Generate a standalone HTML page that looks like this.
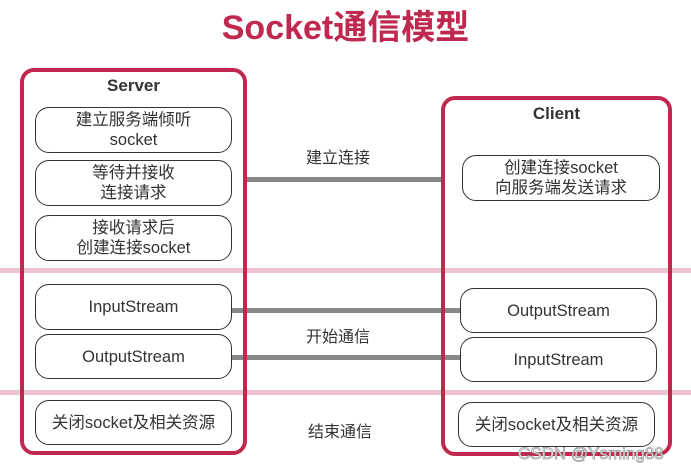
<!DOCTYPE html>
<html><head><meta charset="utf-8"><style>
body{margin:0;width:691px;height:474px;background:#fff;position:relative;overflow:hidden;font-family:"Liberation Sans","Noto Sans CJK SC",sans-serif;color:#333}
.a{position:absolute}
.big{border:4px solid #c0294f;border-radius:14px;box-sizing:border-box}
.box{position:absolute;border:1.5px solid #333;border-radius:14px;box-sizing:border-box;display:flex;align-items:center;justify-content:center;text-align:center;font-size:16.5px;line-height:20px;background:#fff}
.pk{position:absolute;left:0;width:691px;height:5px;background:#f0c4ce}
.ln{position:absolute;height:5px;background:#888}
.lb{position:absolute;font-size:16px;color:#333}
</style></head><body>
<div class="a" style="left:0;width:691px;top:6px;text-align:center;font-size:34px;font-weight:bold;color:#c0294f;line-height:44px">Socket通信模型</div>
<div class="pk" style="top:268px"></div>
<div class="pk" style="top:390px"></div>
<div class="ln" style="left:245px;width:198px;top:177px"></div>
<div class="ln" style="left:230px;width:232px;top:308px"></div>
<div class="ln" style="left:230px;width:232px;top:355px"></div>
<div class="a big" style="left:20px;top:68px;width:227px;height:387px"></div>
<div class="a big" style="left:441px;top:96px;width:231px;height:360px"></div>
<div class="a" style="left:20px;width:227px;top:76px;text-align:center;font-size:17px;font-weight:bold">Server</div>
<div class="a" style="left:441px;width:231px;top:104px;text-align:center;font-size:17px;font-weight:bold">Client</div>
<div class="box" style="left:35px;top:107px;width:197px;height:46px">建立服务端倾听<br>socket</div>
<div class="box" style="left:35px;top:160px;width:197px;height:46px">等待并接收<br>连接请求</div>
<div class="box" style="left:35px;top:215px;width:197px;height:46px">接收请求后<br>创建连接socket</div>
<div class="box" style="left:35px;top:284px;width:197px;height:46px">InputStream</div>
<div class="box" style="left:35px;top:334px;width:197px;height:45px">OutputStream</div>
<div class="box" style="left:35px;top:400px;width:197px;height:45px">关闭socket及相关资源</div>
<div class="box" style="left:462px;top:155px;width:198px;height:46px">创建连接socket<br>向服务端发送请求</div>
<div class="box" style="left:460px;top:288px;width:197px;height:45px">OutputStream</div>
<div class="box" style="left:460px;top:337px;width:197px;height:45px">InputStream</div>
<div class="box" style="left:458px;top:402px;width:197px;height:45px">关闭socket及相关资源</div>
<div class="lb" style="left:306px;top:144px">建立连接</div>
<div class="lb" style="left:306px;top:323px">开始通信</div>
<div class="lb" style="left:308px;top:418px">结束通信</div>
<div class="a" style="left:518px;top:444px;font-size:17px;color:#fff;-webkit-text-stroke:0.8px #999">CSDN @Ysming88</div>
</body></html>
